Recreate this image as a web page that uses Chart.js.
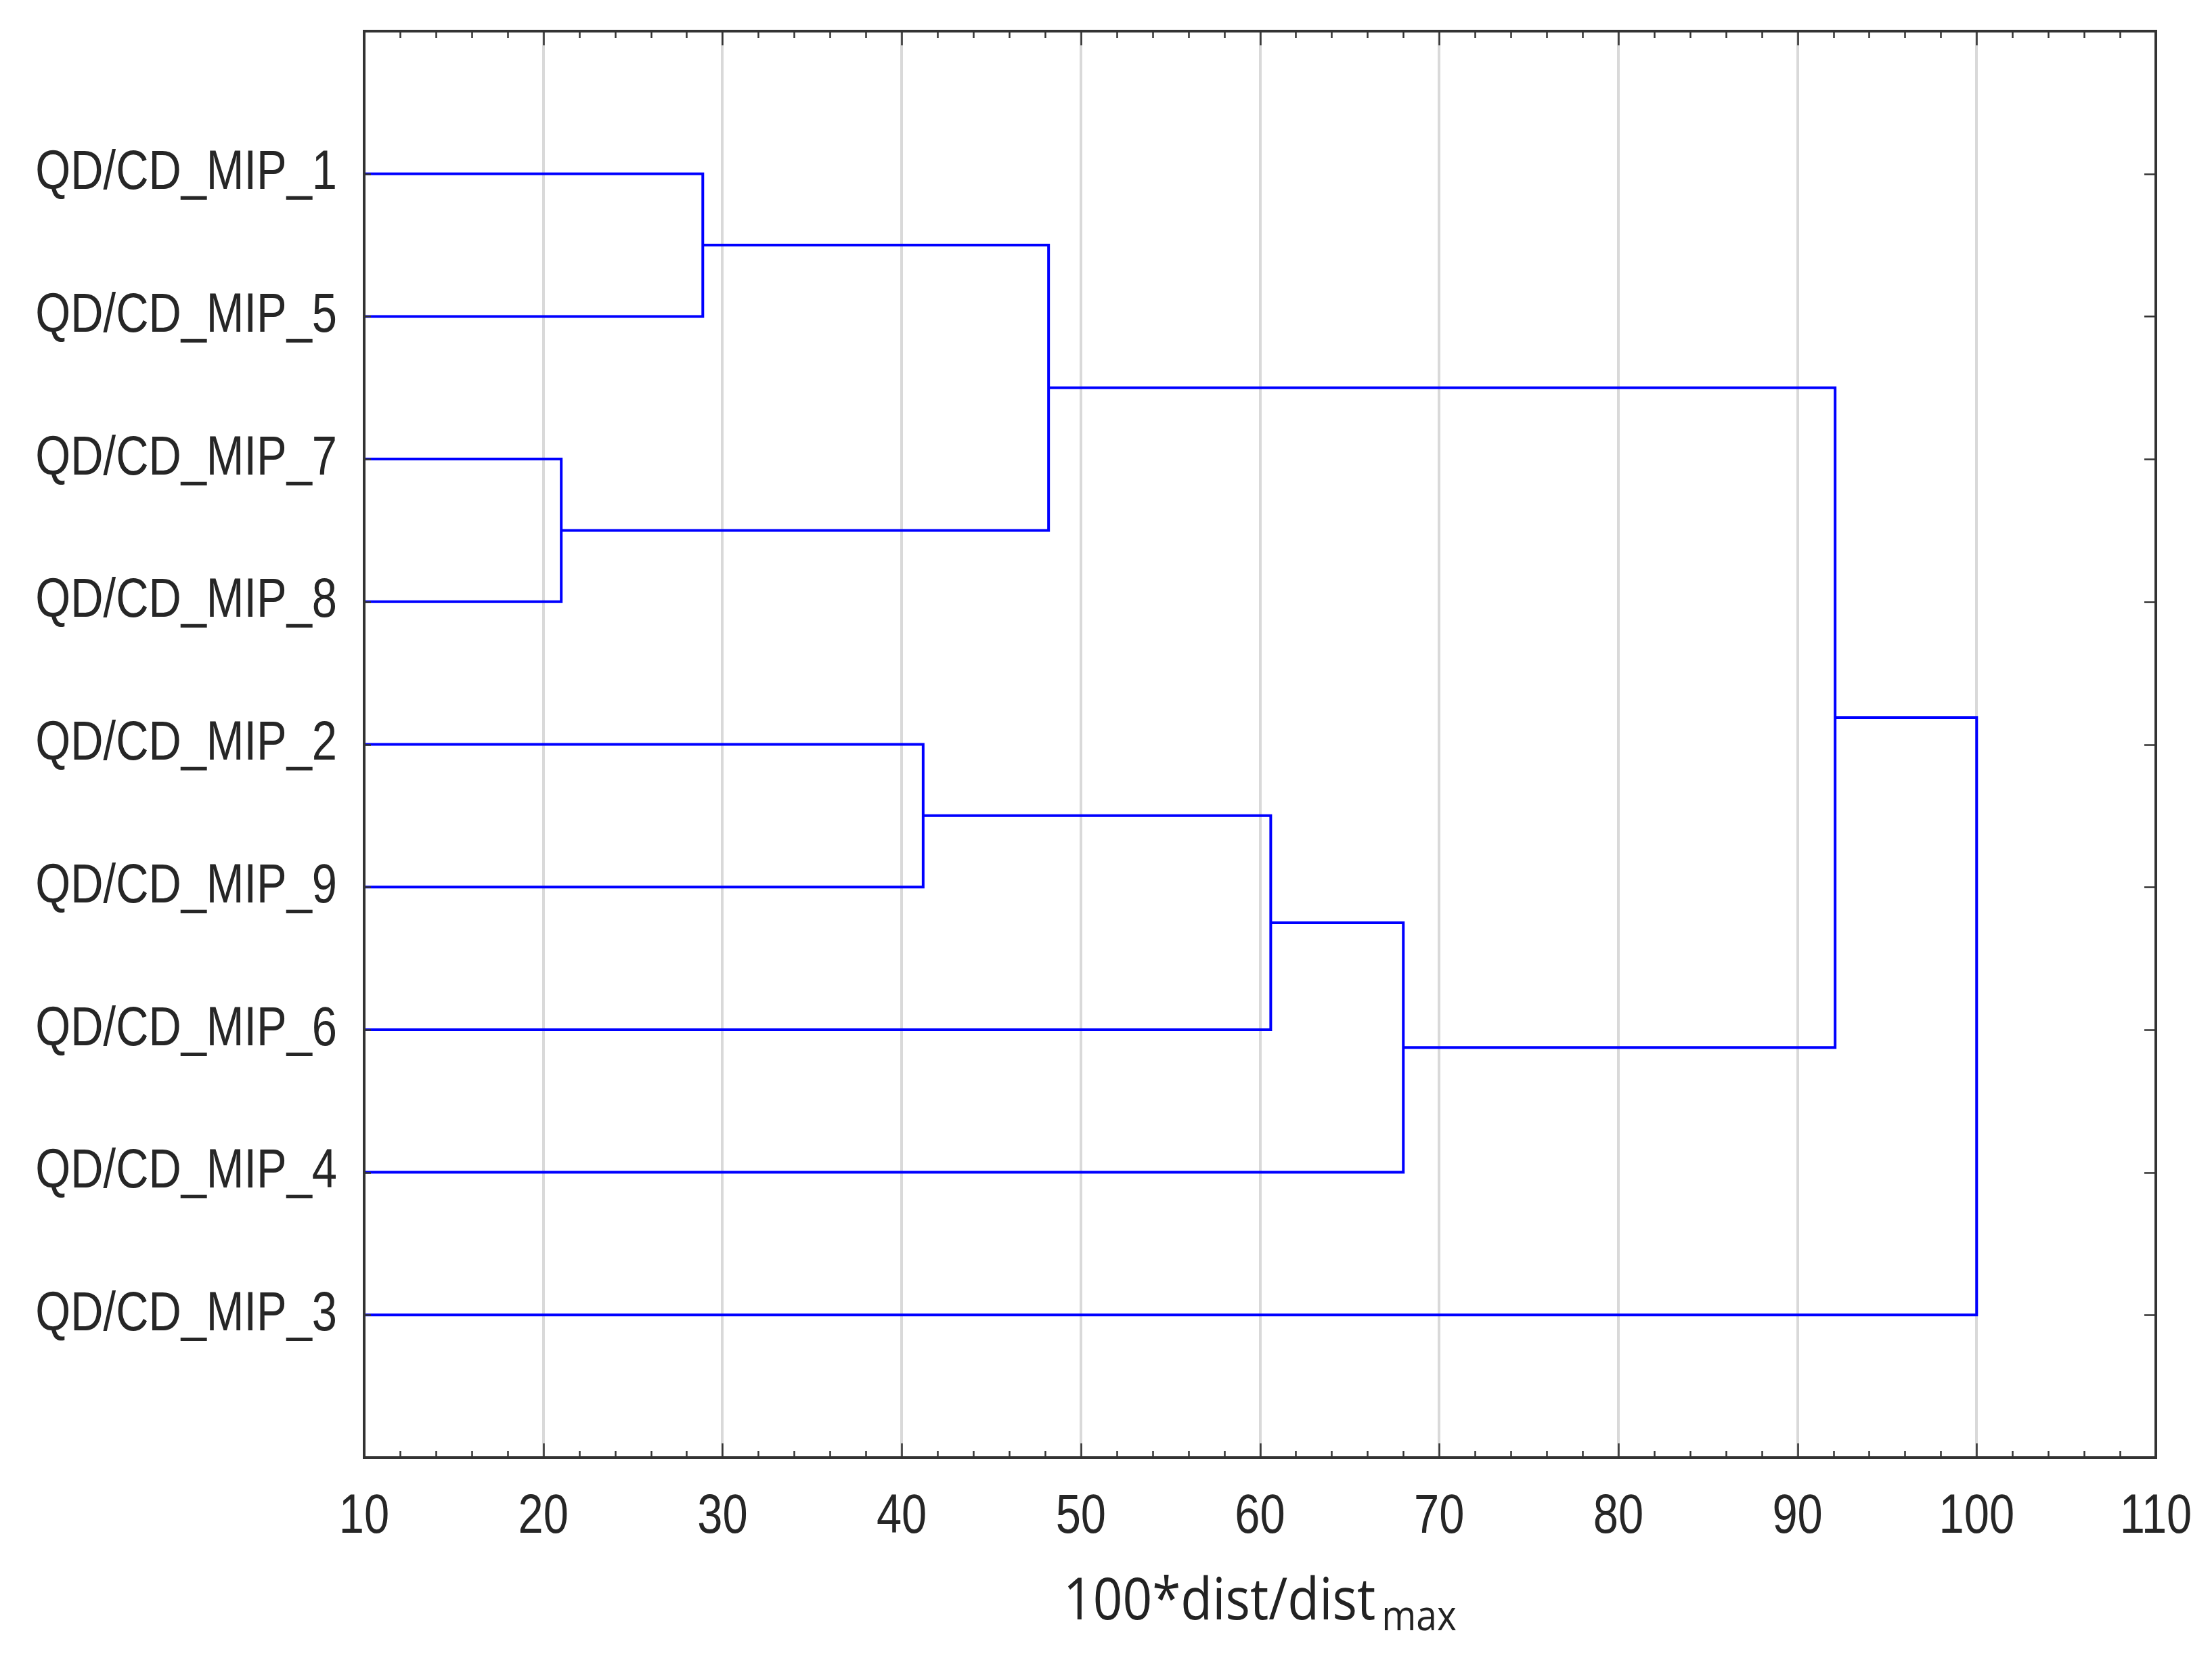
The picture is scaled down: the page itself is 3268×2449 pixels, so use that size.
<!DOCTYPE html>
<html>
<head>
<meta charset="utf-8">
<script src="https://cdn.jsdelivr.net/npm/chart.js@4/dist/chart.umd.min.js"></script>
<style>
  html, body { margin: 0; padding: 0; background: #fff; }
  #wrap { position: relative; width: 3268px; height: 2449px; }
  #xTitle {
    position: absolute; top: 2316px; left: 0;
    font-family: 'Open Sans', 'Noto Sans', sans-serif; font-size: 86px; line-height: 86px;
    color: #222; white-space: nowrap; transform-origin: 0 0;
  }
  #xTitle sub { font-size: 62px; vertical-align: -16px; margin-left: 10px; }
</style>
</head>
<body>
<div id="wrap">
  <canvas id="dendro" width="3268" height="2449"></canvas>
  <div id="xTitle">100*dist/dist<sub>max</sub></div>
</div>
<script>
document.addEventListener('DOMContentLoaded', () => {
  // Leaves in display order (top to bottom)
  const leafLabels = ['QD/CD_MIP_1', 'QD/CD_MIP_5', 'QD/CD_MIP_7', 'QD/CD_MIP_8',
    'QD/CD_MIP_2', 'QD/CD_MIP_9', 'QD/CD_MIP_6', 'QD/CD_MIP_4', 'QD/CD_MIP_3'];

  // Linkage: merge k joins cluster mergeA[k] and mergeB[k] into new cluster (9 + k)
  const mergeA = [0, 2, 9, 4, 12, 13, 11, 15];
  const mergeB = [1, 3, 10, 5, 6, 7, 14, 8];
  const mergeDist = [28.9, 21.0, 48.2, 41.2, 60.6, 68.0, 92.1, 100];

  // x axis ticks
  const xTicks = [10, 20, 30, 40, 50, 60, 70, 80, 90, 100, 110];

  const LINE_COLOR = '#0000ff';
  const FRAME_COLOR = '#333333';
  const TEXT_COLOR = '#262626';
  const LABEL_FONT = "82px 'Liberation Sans', Arial, sans-serif";
  const NARROW = 0.815; // the original uses a condensed face

  // Build the U-shaped links from the linkage
  const nodeX = leafLabels.map(() => xTicks[0]);
  const nodeY = leafLabels.map((_, i) => i + 1);
  const segs = [];
  mergeA.forEach((a, k) => {
    const b = mergeB[k];
    const d = mergeDist[k];
    segs.push({ x: nodeX[a], y: nodeY[a] }, { x: d, y: nodeY[a] },
      { x: d, y: nodeY[b] }, { x: nodeX[b], y: nodeY[b] }, { x: null, y: null });
    nodeX.push(d);
    nodeY.push((nodeY[a] + nodeY[b]) / 2);
  });

  function narrowText(ctx, text, x, y, align) {
    ctx.save();
    ctx.translate(x, y);
    ctx.scale(NARROW, 1);
    ctx.textAlign = align;
    ctx.fillText(text, 0, 0);
    ctx.restore();
  }

  // Frame, inward tick marks and condensed tick labels
  const framePlugin = {
    id: 'frame',
    afterDraw(chart) {
      const { ctx, chartArea: a, scales: { x, y } } = chart;
      ctx.save();
      ctx.strokeStyle = FRAME_COLOR;
      ctx.lineWidth = 2.5;
      for (let v = xTicks[0]; v <= xTicks[xTicks.length - 1]; v += 2) {
        const px = Math.round(x.getPixelForValue(v)) + 0.5;
        const len = v % 10 === 0 ? 21 : 10;
        ctx.beginPath();
        ctx.moveTo(px, a.bottom); ctx.lineTo(px, a.bottom - len);
        ctx.moveTo(px, a.top); ctx.lineTo(px, a.top + len);
        ctx.stroke();
      }
      leafLabels.forEach((_, i) => {
        const py = Math.round(y.getPixelForValue(i + 1)) + 0.5;
        ctx.beginPath();
        ctx.moveTo(a.right, py); ctx.lineTo(a.right - 17, py);
        ctx.moveTo(a.left, py); ctx.lineTo(a.left + 10, py);
        ctx.stroke();
      });
      ctx.lineWidth = 4;
      ctx.strokeRect(a.left, a.top, a.right - a.left, a.bottom - a.top);

      ctx.fillStyle = TEXT_COLOR;
      ctx.font = LABEL_FONT;
      ctx.textBaseline = 'middle';
      leafLabels.forEach((lab, i) => {
        narrowText(ctx, lab, a.left - 40, y.getPixelForValue(i + 1), 'right');
      });
      xTicks.forEach(v => {
        narrowText(ctx, String(v), x.getPixelForValue(v), a.bottom + 88, 'center');
      });
      ctx.restore();
    }
  };

  const chart = new Chart(document.getElementById('dendro'), {
    type: 'scatter',
    data: {
      datasets: [{
        data: segs,
        showLine: true,
        spanGaps: false,
        borderColor: LINE_COLOR,
        borderWidth: 4,
        pointRadius: 0,
        borderJoinStyle: 'miter',
        tension: 0
      }]
    },
    options: {
      responsive: false,
      animation: false,
      layout: { padding: { left: 0, top: 46, right: 83, bottom: 0 } },
      plugins: { legend: { display: false }, tooltip: { enabled: false } },
      scales: {
        x: {
          type: 'linear',
          min: xTicks[0],
          max: xTicks[xTicks.length - 1],
          afterBuildTicks: s => { s.ticks = xTicks.map(v => ({ value: v })); },
          afterFit: s => { s.height = 296; },
          grid: { color: '#d9d9d9', lineWidth: 4, drawTicks: false },
          border: { display: false },
          ticks: { display: false }
        },
        y: {
          type: 'linear',
          reverse: true,
          min: 0,
          max: leafLabels.length + 1,
          afterBuildTicks: s => { s.ticks = leafLabels.map((_, i) => ({ value: i + 1 })); },
          afterFit: s => { s.width = 538; },
          grid: { display: false, drawTicks: false },
          border: { display: false },
          ticks: { display: false }
        }
      }
    },
    plugins: [framePlugin]
  });

  // Axis title: condense and centre it under the plot area
  const title = document.getElementById('xTitle');
  const squeeze = 0.89;
  const w = title.offsetWidth * squeeze;
  const cx = (chart.chartArea.left + chart.chartArea.right) / 2;
  title.style.transform = `translateX(${cx - w / 2}px) scaleX(${squeeze})`;
});
</script>
</body>
</html>
